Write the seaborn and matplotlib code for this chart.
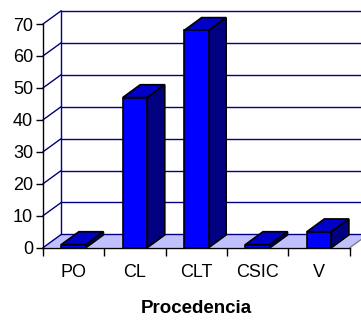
import matplotlib
matplotlib.use("Agg")
import matplotlib.pyplot as plt
from matplotlib.patches import Polygon
from matplotlib.lines import Line2D
from matplotlib.transforms import IdentityTransform
import seaborn as sns
import pandas as pd
import numpy as np

categories = ["PO", "CL", "CLT", "CSIC", "V"]
counts = [1, 47, 68, 1, 5]
y_ticks = [0, 10, 20, 30, 40, 50, 60, 70]
x_title = "Procedencia"

FRONT = "#0000FF"
TOP = "#0000C8"
SIDE = "#000080"
GRID = "#000080"
FLOOR = "#C0C0FF"

sns.set_style("white")
plt.rcParams["font.family"] = ["Liberation Sans", "DejaVu Sans"]
plt.rcParams["text.color"] = "black"
plt.rcParams["xtick.color"] = "black"
plt.rcParams["ytick.color"] = "black"
plt.rcParams["axes.labelcolor"] = "black"

DPI = 100
fig = plt.figure(figsize=(3.61, 3.22), dpi=DPI)
ax = fig.add_axes([0.119, 0.2307, 0.850, 0.6947])
ax.patch.set_visible(False)

df = pd.DataFrame({"cat": categories, "n": counts})
sns.barplot(data=df, x="cat", y="n", color=FRONT, saturation=1, width=0.4,
            edgecolor="black", linewidth=1.2, ax=ax, zorder=5)
bars = list(ax.patches)

ax.set_xlim(-0.5, len(categories) - 0.5)
ax.set_ylim(0, 70)
ax.set_yticks(y_ticks)
ax.set_xlabel(x_title, fontsize=13.5, fontweight="bold", labelpad=14)
ax.set_ylabel("")

for s in ["top", "right"]:
    ax.spines[s].set_visible(False)
for s in ["left", "bottom"]:
    ax.spines[s].set_color("black")
    ax.spines[s].set_linewidth(1.0)
    ax.spines[s].set_zorder(6)

ax.tick_params(axis="y", left=True, length=5, width=1, color="black",
               labelsize=13, pad=2)
ax.tick_params(axis="x", which="major", bottom=False, labelsize=13, pad=8)
ax.set_xticks(np.arange(-0.5, len(categories)), minor=True)
ax.tick_params(axis="x", which="minor", bottom=True, length=6, width=1,
               color="black")

fig.canvas.draw()
T = ax.transData

# depth of walls and bars, in pixels
WDX, WDY = 18.3, 13.3
BDX, BDY = 17.5, 12.8

def px(x, y):
    return T.transform((x, y))

def add(artist):
    artist.set_clip_on(False)
    ax.add_artist(artist)

x0, x1 = ax.get_xlim()
idt = IdentityTransform()

# floor
fl = px(x0, 0); fr = px(x1, 0)
add(Polygon([fl, fr, fr + [WDX, WDY], fl + [WDX, WDY]], closed=True,
            facecolor=FLOOR, edgecolor="none", transform=idt, zorder=1))
add(Line2D([fr[0], fr[0] + WDX], [fr[1], fr[1] + WDY],
           color="#808080", lw=1, transform=idt, zorder=1.5))

# back and side walls with gridlines
fig_w = fig.get_figwidth() * DPI
for v in y_ticks:
    p = px(x0, v)
    add(Line2D([p[0], p[0] + WDX], [p[1], p[1] + WDY],
               color=GRID, lw=1, transform=idt, zorder=2))
    add(Line2D([p[0] + WDX, fig_w + 5], [p[1] + WDY, p[1] + WDY],
               color=GRID, lw=1, transform=idt, zorder=2))
pb = px(x0, 0); pt = px(x0, 70)
add(Line2D([pb[0] + WDX, pt[0] + WDX], [pb[1] + WDY, pt[1] + WDY],
           color=GRID, lw=1, transform=idt, zorder=2))

# 3D top and side faces of each bar
for patch in bars:
    bx = patch.get_x(); bw = patch.get_width(); bh = patch.get_height()
    a = px(bx, bh); b = px(bx + bw, bh); c = px(bx + bw, 0)
    add(Polygon([a, b, b + [BDX, BDY], a + [BDX, BDY]], closed=True,
                facecolor=TOP, edgecolor="black", lw=1.2, transform=idt,
                zorder=4))
    add(Polygon([b, c, c + [BDX, BDY], b + [BDX, BDY]], closed=True,
                facecolor=SIDE, edgecolor="black", lw=1.2, transform=idt,
                zorder=4))

fig.savefig("out.png", dpi=DPI)
